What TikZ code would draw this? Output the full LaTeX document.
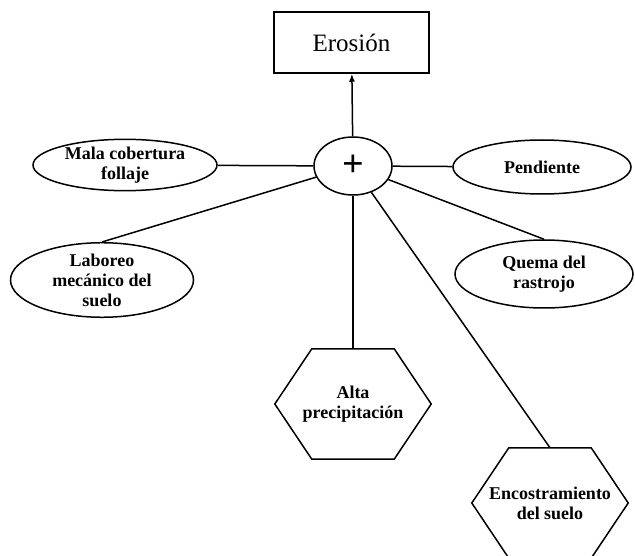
\documentclass[tikz,border=0pt]{standalone}
\usepackage{fontspec}
\setmainfont{Liberation Serif}
\usetikzlibrary{calc,arrows.meta,shapes.geometric}
\begin{document}
\begin{tikzpicture}[x=1pt,y=-1pt,
  lw/.style={line width=1.5pt},
  txt/.style={font=\fontsize{18}{20}\selectfont\bfseries,align=center},
  oval/.style={ellipse,draw,lw,inner sep=0pt,txt},
  hexbox/.style={inner sep=0pt,txt,minimum width=156pt,minimum height=110pt},
  conn/.style={lw}]
\useasboundingbox (0,0) rectangle (635,556);
\node[draw,lw,minimum width=155pt,minimum height=61pt,font=\fontsize{25}{28}\selectfont] (ero) at (351.5,42.5) {Erosión};
\node[oval,minimum width=78pt,minimum height=58pt,font=\fontsize{38}{38}\selectfont\bfseries] (plus) at (353,166) {+};
\node[oval,minimum width=184pt,minimum height=48pt] (mala) at (125,165) {Mala cobertura\\follaje};
\node[oval,minimum width=183pt,minimum height=67pt] (lab) at (102,280) {Laboreo\\mecánico del\\suelo};
\node[oval,minimum width=178pt,minimum height=54pt] (pend) at (542,167) {Pendiente};
\node[oval,minimum width=178pt,minimum height=68pt] (quema) at (544,274) {Quema del\\rastrojo};
\node[hexbox] (alta) at (353,404) {Alta\\precipitación};
\node[hexbox] (enc) at (550,503) {Encostramiento\\del suelo};
\foreach \h in {alta,enc}{
  \draw[lw] (\h.west) -- ($(\h.north west)+(37,0)$) -- ($(\h.north east)+(-37,0)$) -- (\h.east)
    -- ($(\h.south east)+(-37,0)$) -- ($(\h.south west)+(37,0)$) -- cycle;
}
\draw[conn,-{Latex[length=8pt,width=6pt]}] (plus) -- (ero);
\draw[conn] (plus) -- (mala);
\draw[conn] (plus) -- (lab.north);
\draw[conn] (plus) -- (pend);
\draw[conn] (plus) -- (quema.north);
\draw[conn] (plus) -- (alta.north);
\draw[conn] (plus) -- (enc.north);
\end{tikzpicture}
\end{document}
